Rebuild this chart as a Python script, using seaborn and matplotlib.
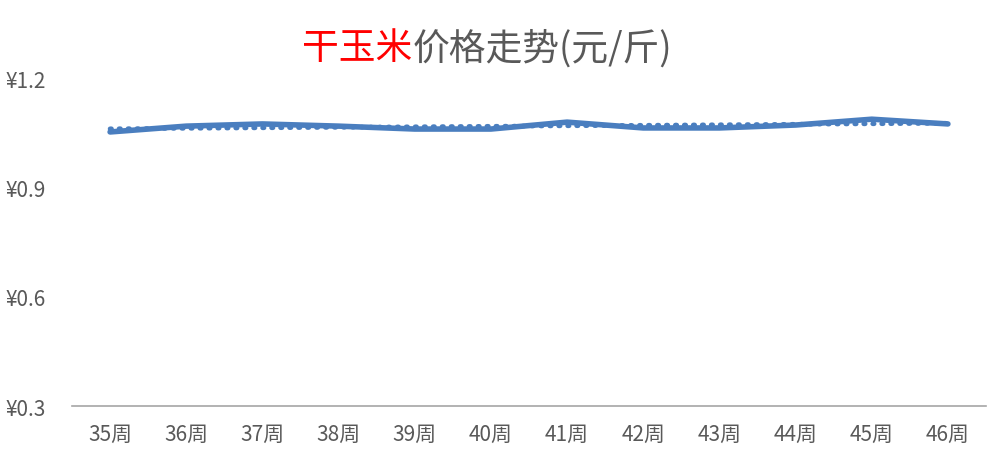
import numpy as np
import pandas as pd
import seaborn as sns
import matplotlib
matplotlib.use("Agg")
import matplotlib.pyplot as plt

weeks = ['35周', '36周', '37周', '38周', '39周', '40周',
         '41周', '42周', '43周', '44周', '45周', '46周']
price = [1.052, 1.068, 1.074, 1.068, 1.060, 1.060,
         1.079, 1.063, 1.063, 1.071, 1.087, 1.074]
yticks = [0.3, 0.6, 0.9, 1.2]

df = pd.DataFrame({'idx': np.arange(len(weeks)), 'week': weeks, 'price': price})

sns.set_style('white')
plt.rcParams['font.family'] = ['Noto Sans CJK SC', 'DejaVu Sans']

blue = '#4A7EBF'
grey = '#595959'

fig = plt.figure(figsize=(10, 4.64), dpi=100)
ax = fig.add_axes([0.072, 0.1228, 0.914, 0.7069])

# linear trend (dotted), like the excel trendline
sns.regplot(data=df, x='idx', y='price', ax=ax, ci=None, scatter=False, truncate=True,
            line_kws=dict(color=blue, lw=3.4, ls=(0, (0.3, 1.6)), dash_capstyle='round',
                          solid_capstyle='round'))
sns.lineplot(data=df, x='idx', y='price', ax=ax, color=blue, lw=4.0,
             solid_capstyle='round', solid_joinstyle='round')

ax.set_xlim(-0.5, len(weeks) - 0.5)
ax.set_ylim(0.3, 1.2)
ax.set_xticks(df['idx'])
ax.set_xticklabels(weeks)
ax.set_yticks(yticks)
ax.set_yticklabels(['¥{:.1f}'.format(v) for v in yticks])
ax.set_xlabel('')
ax.set_ylabel('')
ax.tick_params(axis='both', length=0, labelsize=15, colors=grey)
ax.tick_params(axis='x', pad=12)
for lbl in ax.get_yticklabels():
    lbl.set_horizontalalignment('left')
ax.yaxis.set_tick_params(pad=48)

for s in ['top', 'right', 'left']:
    ax.spines[s].set_visible(False)
ax.spines['bottom'].set_color('#A6A6A6')
ax.spines['bottom'].set_linewidth(1.2)

# two coloured title
fig.canvas.draw()
r = fig.canvas.get_renderer()
t1 = fig.text(0.5, 0.895, '干玉米', color='#FF0000', fontsize=26.5, ha='left', va='center')
t2 = fig.text(0.5, 0.895, '价格走势(元/斤)', color=grey, fontsize=26.5, ha='left', va='center')
w1 = t1.get_window_extent(r).width / fig.bbox.width
w2 = t2.get_window_extent(r).width / fig.bbox.width
x0 = 0.487 - (w1 + w2) / 2
t1.set_x(x0)
t2.set_x(x0 + w1)

fig.savefig('out.png', dpi=100)
